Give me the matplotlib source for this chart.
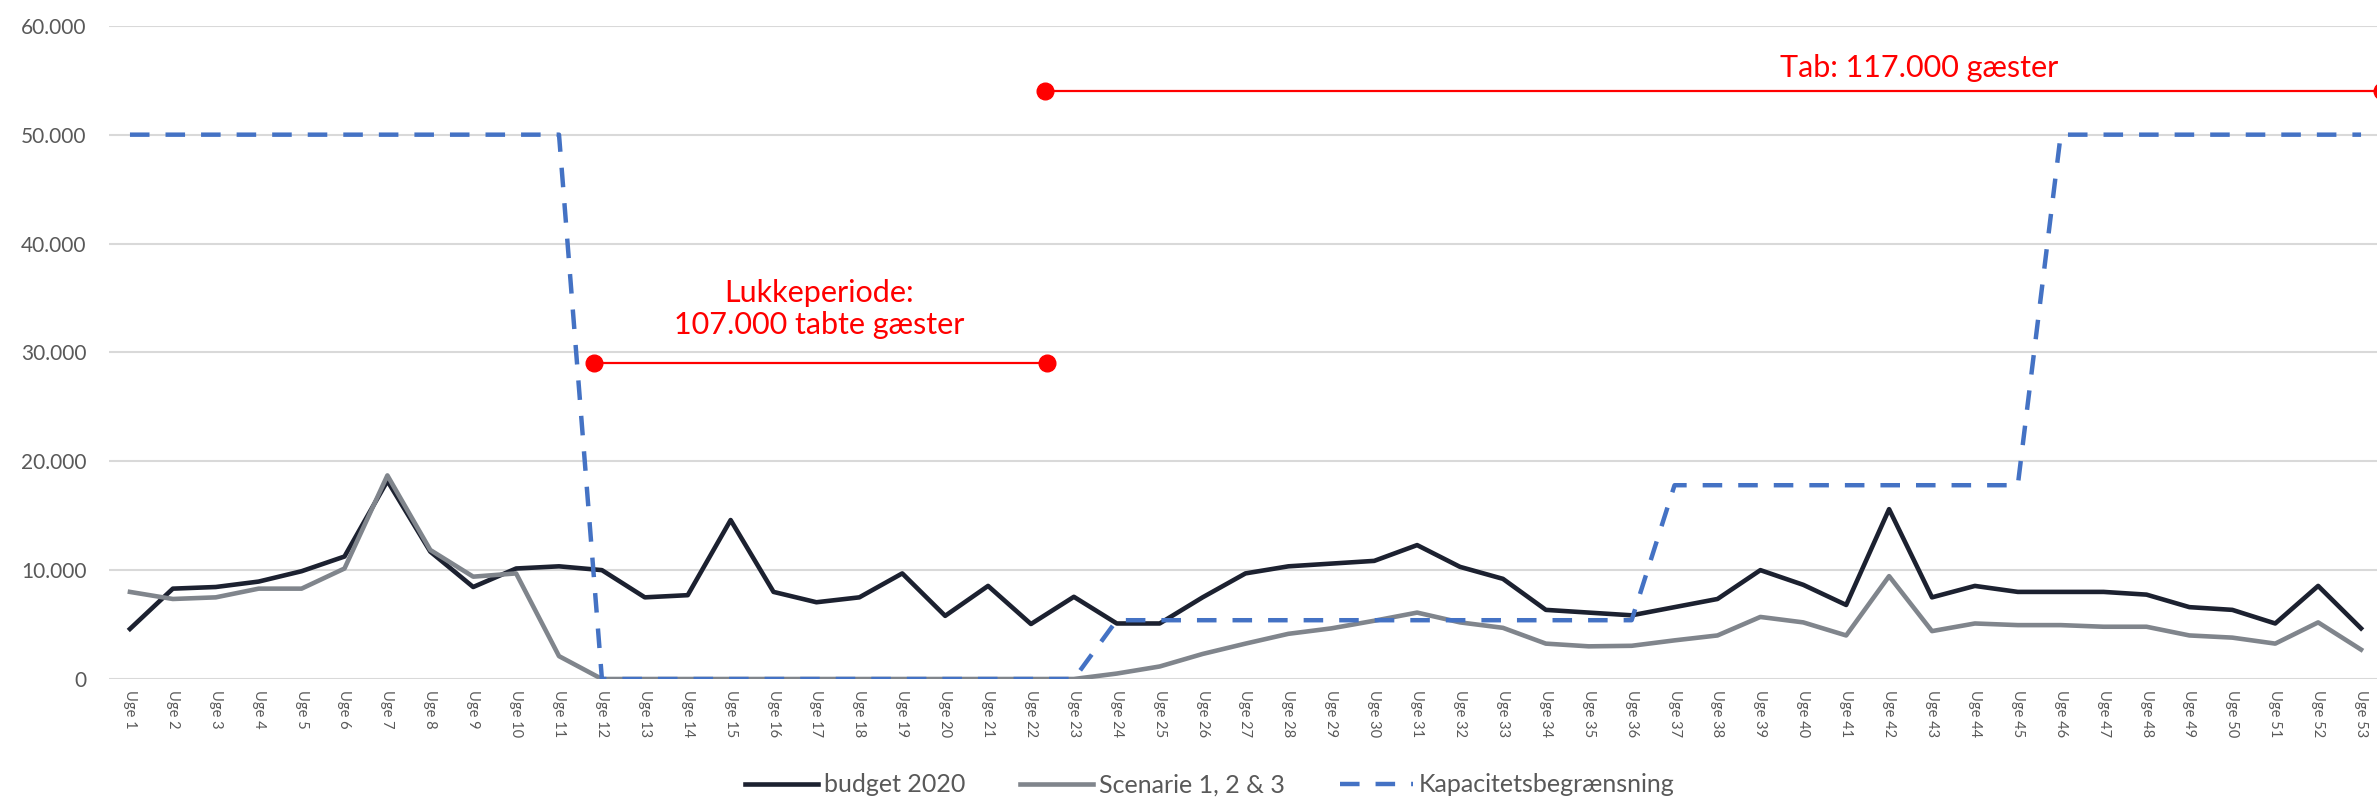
import matplotlib
matplotlib.use("Agg")
import matplotlib.pyplot as plt
from matplotlib.ticker import FuncFormatter, MultipleLocator

plt.rcParams['font.family'] = ['Lato', 'DejaVu Sans']

weeks = [f"Uge {i}" for i in range(1, 54)]
budget_2020 = [4600, 8300, 8450, 8950, 9900, 11250, 18200, 11700, 8450, 10150,
               10350, 10000, 7500, 7700, 14600, 8000, 7050, 7500, 9700, 5800,
               8550, 5050, 7550, 5100, 5100, 7500, 9700, 10350, 10600, 10850,
               12300, 10300, 9200, 6350, 6100, 5850, 6600, 7350, 10000, 8650,
               6800, 15600, 7500, 8550, 8000, 8000, 8000, 7750, 6600, 6350,
               5100, 8550, 4650]
scenarie = [8000, 7350, 7500, 8300, 8300, 10150, 18700, 11850, 9400, 9700,
            2100, 0, 0, 0, 0, 0, 0, 0, 0, 0,
            0, 0, 0, 500, 1150, 2300, 3250, 4150, 4650, 5350,
            6100, 5200, 4700, 3250, 3000, 3050, 3550, 4000, 5700, 5200,
            4000, 9450, 4400, 5100, 4950, 4950, 4800, 4800, 4000, 3800,
            3250, 5200, 2700]
kapacitet = [50000] * 11 + [0] * 12 + [5400] * 13 + [17800] * 9 + [50000] * 8

lukke_x = [11.82, 22.37]
lukke_y = [29000, 29000]
lukke_text = "Lukkeperiode:\n107.000 tabte gæster"
lukke_text_pos = (17.06, 33970)
tab_x = [22.33, 53.5]
tab_y = [54000, 54000]
tab_text = "Tab: 117.000 gæster"
tab_text_pos = (42.7, 56100)

series_labels = ["budget 2020", "Scenarie 1, 2 & 3", "Kapacitetsbegrænsning"]

W, H = 2377, 801
fig = plt.figure(figsize=(W / 100, H / 100), dpi=100)
ax = fig.add_axes([108.5 / W, 1 - 679 / H, (2382.5 - 108.5) / W, (679 - 25.8) / H])

x = list(range(1, 54))
l1, = ax.plot(x, budget_2020, color='#1c2130', lw=3.3, solid_joinstyle='round', zorder=3)
l2, = ax.plot(x, scenarie, color='#80858c', lw=3.3, solid_joinstyle='round', zorder=4)
l3, = ax.plot(x, kapacitet, color='#4472c4', lw=3.2, linestyle=(0, (4.4, 3.6)), zorder=5)

ax.plot(lukke_x, lukke_y, color='#ff0000', lw=1.6, marker='o', ms=12, zorder=6)
ax.plot(tab_x, tab_y, color='#ff0000', lw=1.6, marker='o', ms=12, zorder=6, clip_on=False)
ax.text(*lukke_text_pos, lukke_text, color='#ff0000', fontsize=22, ha='center', va='center',
        linespacing=1.15)
ax.text(*tab_text_pos, tab_text, color='#ff0000', fontsize=22, ha='center', va='center')

ax.set_xlim(0.5, 53.5)
ax.set_ylim(0, 60000)
ax.yaxis.set_major_locator(MultipleLocator(10000))
ax.yaxis.set_major_formatter(FuncFormatter(lambda v, p: f"{v:,.0f}".replace(",", ".")))
ax.set_xticks(x)
ax.set_xticklabels(weeks, rotation=-90, fontsize=10.5, color='#595959')
ax.tick_params(axis='x', length=0, pad=8)
ax.tick_params(axis='y', length=0, pad=16, labelsize=15, labelcolor='#595959')
for s in ax.spines.values():
    s.set_visible(False)
ax.grid(axis='y', color='#d9d9d9', lw=1.5, zorder=0)
ax.set_axisbelow(True)

fig.legend([l1, l2, l3], series_labels, loc='center', bbox_to_anchor=(1210 / W, 1 - 785 / H),
           ncol=3, frameon=False, fontsize=18, handlelength=2.9, handletextpad=0.25,
           columnspacing=2.2, labelcolor='#595959')

fig.savefig("out.png", dpi=100)
